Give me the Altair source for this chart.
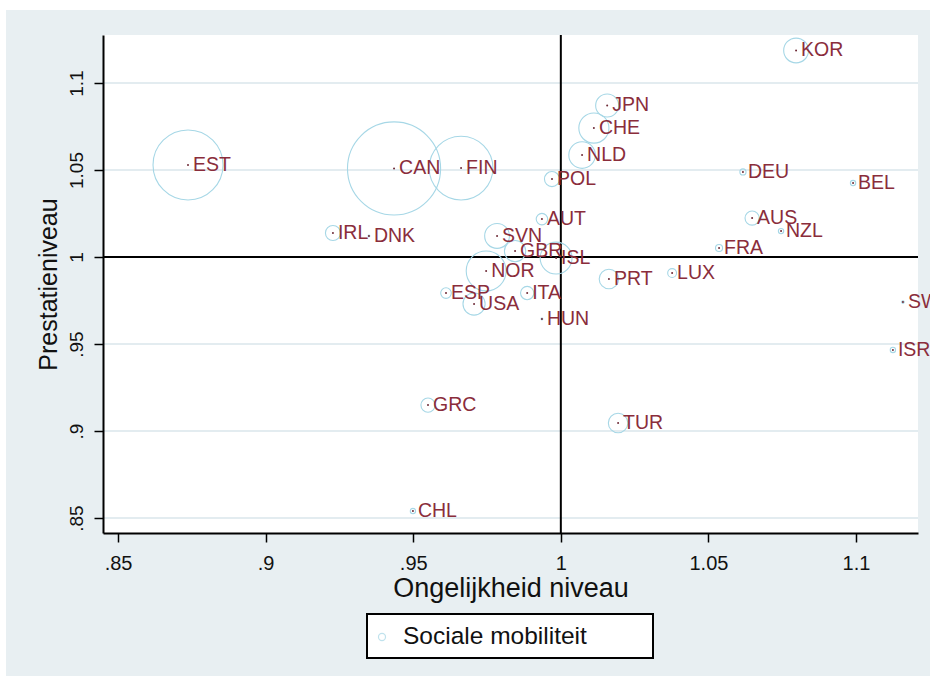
import altair as alt
import pandas as pd

# Country codes with inequality level (x), performance level (y)
# and social mobility (bubble weight)
countries = ["KOR", "JPN", "CHE", "NLD", "POL", "DEU", "BEL", "EST", "CAN", "FIN",
             "IRL", "DNK", "AUT", "SVN", "GBR", "ISL", "NOR", "ESP", "USA", "ITA",
             "HUN", "PRT", "LUX", "FRA", "AUS", "NZL", "SWE", "ISR", "GRC", "TUR", "CHL"]
ongelijkheid = [1.0797, 1.0157, 1.0112, 1.0072, 0.9970, 1.0617, 1.0990, 0.8737, 0.9435, 0.9662,
                0.9228, 0.9350, 0.9936, 0.9784, 0.9845, 0.9984, 0.9747, 0.9611, 0.9706, 0.9886,
                0.9936, 1.0163, 1.0377, 1.0536, 1.0648, 1.0746, 1.1159, 1.1125, 0.9550, 1.0194, 0.9499]
prestatie = [1.1187, 1.0871, 1.0741, 1.0586, 1.0448, 1.0489, 1.0425, 1.0529, 1.0509, 1.0511,
             1.0138, 1.0121, 1.0218, 1.0121, 1.0034, 0.9994, 0.9920, 0.9793, 0.9730, 0.9793,
             0.9644, 0.9874, 0.9908, 1.0052, 1.0224, 1.0149, 0.9741, 0.9466, 0.9149, 0.9046, 0.8540]
mobiliteit = [1.96, 1.69, 2.89, 2.25, 0.72, 0.12, 0.09, 15.6, 27.6, 12.96,
              0.72, 0.01, 0.42, 1.96, 1.44, 3.24, 5.06, 0.36, 1.56, 0.56,
              0.01, 1.21, 0.25, 0.16, 0.64, 0.09, 0.02, 0.09, 0.64, 1.21, 0.09]

x_ticks = [0.85, 0.9, 0.95, 1.0, 1.05, 1.1]
y_ticks = [0.85, 0.9, 0.95, 1.0, 1.05, 1.1]
x_domain = [0.8449, 1.1210]
y_domain = [0.8414, 1.1276]
legend_label = "Sociale mobiliteit"

df = pd.DataFrame({
    "land": countries,
    "ongelijkheid": ongelijkheid,
    "prestatie": prestatie,
    "mobiliteit": mobiliteit,
})
grid_df = pd.DataFrame({"tick": y_ticks})
one = pd.DataFrame({"k": [0]})

W, H = 815, 498
FONT = "Liberation Sans, Arial, sans-serif"
BG = "#e8eff2"
GRID = "#e3ecf0"
RING = "#a6d7e6"
LABEL = "#8a2d3b"

xs = alt.Scale(domain=x_domain, nice=False, zero=False)
ys = alt.Scale(domain=y_domain, nice=False, zero=False)
label_expr = "replace(format(datum.value, '~g'), '0.', '.')"

x_axis = alt.Axis(values=x_ticks, labelExpr=label_expr, grid=False, tickSize=9,
                  domainColor="black", domainWidth=2, tickColor="black", tickWidth=1.5,
                  labelColor="#111", labelFontSize=20, labelFont=FONT, labelPadding=11,
                  title="Ongelijkheid niveau", titleFont=FONT, titleFontSize=27,
                  titleFontWeight="normal", titleColor="#111", titlePadding=2, zindex=1)
y_axis = alt.Axis(values=y_ticks, labelExpr=label_expr, grid=False, tickSize=9,
                  domainColor="black", domainWidth=2, tickColor="black", tickWidth=1.5,
                  labelColor="#111", labelFontSize=19, labelFont=FONT, labelAngle=270,
                  labelAlign="center", labelBaseline="bottom", labelPadding=8,
                  title="Prestatieniveau", titleFont=FONT, titleFontSize=25,
                  titleFontWeight="normal", titleColor="#111", titlePadding=6, zindex=1)

# Outer graph region and white plot region
outer = alt.Chart(one).mark_rect(color=BG, clip=False).encode(
    x=alt.value(-97), x2=alt.value(W + 12), y=alt.value(-25), y2=alt.value(H + 143))
plot_bg = alt.Chart(one).mark_rect(color="white").encode(
    x=alt.value(0), x2=alt.value(W), y=alt.value(0), y2=alt.value(H))

gridlines = alt.Chart(grid_df).mark_rule(color=GRID, strokeWidth=2).encode(
    y=alt.Y("tick:Q", scale=ys), x=alt.value(0), x2=alt.value(W))

ref_x = alt.Chart(one).mark_rule(color="black", strokeWidth=2).encode(
    x=alt.datum(1.0, scale=xs))
ref_y = alt.Chart(one).mark_rule(color="black", strokeWidth=2).encode(
    y=alt.datum(1.0, scale=ys))

max_w = max(mobiliteit)
rings = alt.Chart(df).mark_point(shape="circle", filled=False, color=RING,
                                 strokeWidth=1.1, opacity=1, clip=False).encode(
    x=alt.X("ongelijkheid:Q", scale=xs, axis=x_axis),
    y=alt.Y("prestatie:Q", scale=ys, axis=y_axis),
    size=alt.Size("mobiliteit:Q", legend=None,
                  scale=alt.Scale(domain=[0, max_w], range=[0, 314.16 * max_w])),
)
dots = alt.Chart(df).mark_circle(size=4, color="#6e2a36", opacity=1).encode(
    x=alt.X("ongelijkheid:Q", scale=xs), y=alt.Y("prestatie:Q", scale=ys))
labels = alt.Chart(df).mark_text(align="left", baseline="middle", dx=5, dy=0,
                                 fontSize=19.5, font=FONT, color=LABEL, clip=False).encode(
    x=alt.X("ongelijkheid:Q", scale=xs), y=alt.Y("prestatie:Q", scale=ys), text="land:N")

# Legend box below the x axis title
leg_box = alt.Chart(one).mark_rect(fill="white", stroke="black", strokeWidth=2).encode(
    x=alt.value(264), x2=alt.value(550), y=alt.value(579), y2=alt.value(623))
leg_sym = alt.Chart(one).mark_point(shape="circle", filled=False, color=RING, size=50,
                                    strokeWidth=1.2).encode(
    x=alt.value(279), y=alt.value(602))
leg_txt = alt.Chart(pd.DataFrame({"t": [legend_label]})).mark_text(
    align="left", baseline="middle", fontSize=24.5, font=FONT, color="#111").encode(
    x=alt.value(300), y=alt.value(602), text="t:N")

chart = alt.layer(
    outer, plot_bg, gridlines, ref_x, ref_y, rings, dots, labels, leg_box, leg_sym, leg_txt
).properties(
    width=W, height=H,
    autosize=alt.AutoSizeParams(type="none"),
    padding={"left": 103, "top": 35, "right": 12, "bottom": 149},
    background="white",
).configure_view(stroke=None)

chart.save("out.html", embed_options={"renderer": "svg", "actions": False})
